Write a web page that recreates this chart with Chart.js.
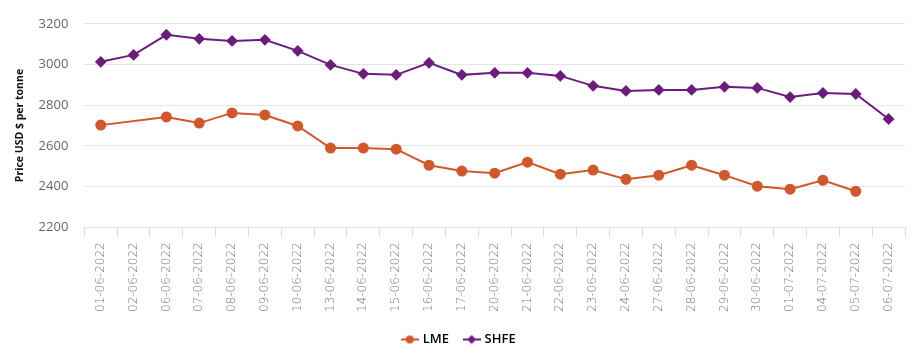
<!DOCTYPE html>
<html>
<head>
<meta charset="utf-8">
<script src="https://cdn.jsdelivr.net/npm/chart.js@4"></script>
<style>
  html, body { margin: 0; padding: 0; background: #fff; }
  #wrap { width: 916px; height: 356px; }
</style>
</head>
<body>
<div id="wrap"><canvas id="price_graph"></canvas></div>
<script>
// dates on the x axis
const dates = [
    "01-06-2022", "02-06-2022", "06-06-2022", "07-06-2022", "08-06-2022",
    "09-06-2022", "10-06-2022", "13-06-2022", "14-06-2022", "15-06-2022",
    "16-06-2022", "17-06-2022", "20-06-2022", "21-06-2022", "22-06-2022",
    "23-06-2022", "24-06-2022", "27-06-2022", "28-06-2022", "29-06-2022",
    "30-06-2022", "01-07-2022", "04-07-2022", "05-07-2022", "06-07-2022"
];

// LME price (no value on 02-06 and 06-07)
const lme = [
    2702, null, 2742, 2712, 2762,
    2752, 2698, 2589, 2589, 2584,
    2505, 2476, 2466, 2520, 2461,
    2481, 2436, 2456, 2505, 2456,
    2402, 2387, 2431, 2377, null
];

// SHFE price
const shfe = [
    3013, 3047, 3146, 3126, 3116,
    3121, 3067, 2998, 2954, 2949,
    3008, 2949, 2959, 2959, 2944,
    2895, 2870, 2875, 2875, 2890,
    2885, 2840, 2860, 2855, 2732
];

const y_ticks = [2200, 2400, 2600, 2800, 3000, 3200];

const lme_color  = "#d2572b";
const shfe_color = "#6c1d7c";

// small legend icon: line with the marker in the middle
function legend_icon(color, style){
    const c = document.createElement("canvas");
    c.width = 18; c.height = 10;
    const g = c.getContext("2d");
    g.strokeStyle = color;
    g.lineWidth = 2;
    g.beginPath();
    g.moveTo(0, 5); g.lineTo(18, 5);
    g.stroke();
    g.fillStyle = color;
    g.beginPath();
    if (style == "circle"){
        g.arc(9, 5, 4, 0, Math.PI * 2);
    }
    else{
        g.moveTo(9, 0.5); g.lineTo(13.5, 5); g.lineTo(9, 9.5); g.lineTo(4.5, 5); g.closePath();
    }
    g.fill();
    return c;
}

const icons = [legend_icon(lme_color, "circle"), legend_icon(shfe_color, "diamond")];

const ctx = document.getElementById("price_graph").getContext("2d");
const myChart = new Chart(ctx, {
    type: "line",
    data: {
        labels: dates,
        datasets: [
            {
                label: "LME",
                data: lme,
                borderColor: lme_color,
                backgroundColor: lme_color,
                borderWidth: 2,
                pointStyle: "circle",
                pointRadius: 4.5,
                pointHoverRadius: 4.5,
                spanGaps: true,
                tension: 0
            },
            {
                label: "SHFE",
                data: shfe,
                borderColor: shfe_color,
                backgroundColor: shfe_color,
                borderWidth: 2,
                pointStyle: "rectRot",
                pointRadius: 4.5,
                pointHoverRadius: 4.5,
                tension: 0
            }
        ]
    },
    options: {
        responsive: true,
        maintainAspectRatio: false,
        animation: false,
        layout: { padding: { left: 14, right: 11, top: 22, bottom: 0 } },
        plugins: {
            tooltip: { enabled: false },
            legend: {
                position: "bottom",
                labels: {
                    usePointStyle: true,
                    padding: 16,
                    color: "#333",
                    font: { family: "Open Sans", size: 13, weight: "600" },
                    generateLabels: function(chart){
                        return chart.data.datasets.map(function(ds, i){
                            return {
                                text: ds.label,
                                fillStyle: ds.borderColor,
                                strokeStyle: ds.borderColor,
                                pointStyle: icons[i],
                                datasetIndex: i,
                                hidden: false
                            };
                        });
                    }
                }
            }
        },
        scales: {
            x: {
                offset: true,
                grid: {
                    offset: true,
                    drawOnChartArea: false,
                    drawTicks: true,
                    tickLength: 10,
                    color: "#dcdce6"
                },
                border: { color: "#dcdce6" },
                ticks: {
                    autoSkip: false,
                    minRotation: 90,
                    maxRotation: 90,
                    color: "#777",
                    padding: 5,
                    font: { family: "DejaVu Sans", size: 12, weight: "200" }
                }
            },
            y: {
                min: 2200,
                max: 3200,
                afterBuildTicks: function(axis){
                    axis.ticks = y_ticks.map(function(v){ return { value: v }; });
                },
                grid: { color: "#e6e6e6", drawTicks: false },
                border: { display: false },
                ticks: {
                    color: "#666",
                    padding: 16,
                    font: { family: "Open Sans", size: 13 },
                    callback: function(v){ return String(v); }
                },
                title: {
                    display: true,
                    text: "Price USD $ per tonne",
                    color: "#111",
                    padding: { top: 0, bottom: -4 },
                    font: { family: "Open Sans", size: 10.5, weight: "bold" }
                }
            }
        }
    }
});
</script>
</body>
</html>
